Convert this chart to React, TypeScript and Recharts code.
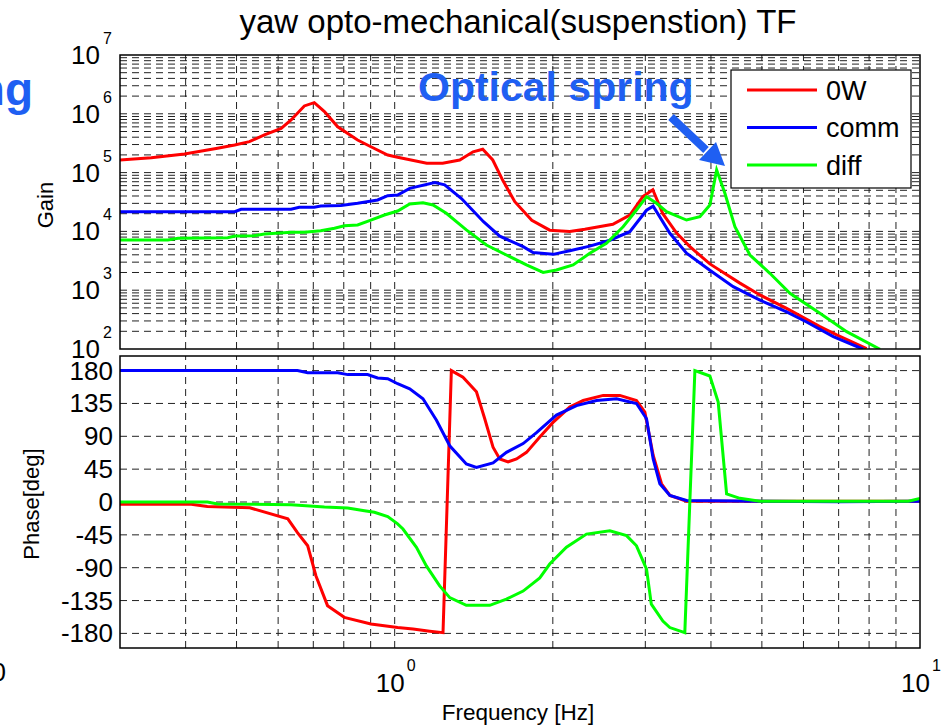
import React from 'react';
import { LineChart, Line, XAxis, YAxis, ReferenceLine } from 'recharts';

const FONT = '"Liberation Sans", Arial, Helvetica, sans-serif';

// ---------- Gain data ----------
const gainFreq0W = [0.3, 0.344, 0.398, 0.46, 0.496, 0.529, 0.565, 0.608, 0.635, 0.673, 0.703, 0.735, 0.779, 0.85, 0.901, 0.97, 1.013, 1.151, 1.234, 1.33, 1.41, 1.471, 1.537, 1.606, 1.693, 1.824, 1.973, 2.154, 2.301, 2.602, 2.803, 2.968, 3.1, 3.239, 3.444, 3.647, 3.981, 4.541, 4.958, 5.573, 6.449, 6.94, 7.915];
const gain0W = [1.64e5, 1.79e5, 2.07e5, 2.59e5, 2.94e5, 3.36e5, 4.37e5, 5.66e5, 7.85e5, 1.36e6, 1.55e6, 1.09e6, 6.0e5, 3.58e5, 2.75e5, 1.99e5, 1.82e5, 1.44e5, 1.44e5, 1.64e5, 2.26e5, 2.5e5, 1.64e5, 7.4e4, 3.2e4, 1.55e4, 1.05e4, 1.0e4, 1.09e4, 1.32e4, 1.9e4, 3.9e4, 5.1e4, 2.0e4, 9.3e3, 5.5e3, 2.8e3, 1.32e3, 830, 490, 240, 174, 102];

const gainFreqComm = [0.3, 0.496, 0.51, 0.635, 0.658, 0.703, 0.723, 0.79, 0.85, 0.928, 0.97, 1.013, 1.068, 1.192, 1.245, 1.34, 1.476, 1.585, 1.756, 1.834, 2.002, 2.154, 2.352, 2.568, 2.803, 3.016, 3.105, 3.341, 3.594, 3.981, 4.41, 4.958, 5.573, 6.083, 6.838, 7.798];
const gainComm = [2.16e4, 2.16e4, 2.38e4, 2.38e4, 2.57e4, 2.57e4, 2.7e4, 2.75e4, 3.0e4, 3.42e4, 4.05e4, 4.16e4, 5.4e4, 6.76e4, 6.2e4, 3.63e4, 1.46e4, 8.3e3, 5.5e3, 4.37e3, 4.07e3, 4.68e3, 5.62e3, 7.08e3, 9.9e3, 2.29e4, 2.69e4, 9.3e3, 4.27e3, 2.19e3, 1.15e3, 676, 427, 288, 162, 99];

const gainFreqDiff = [0.3, 0.37, 0.387, 0.481, 0.496, 0.54, 0.565, 0.635, 0.673, 0.723, 0.768, 0.802, 0.85, 0.901, 0.956, 1.013, 1.068, 1.132, 1.183, 1.254, 1.369, 1.495, 1.632, 1.782, 1.917, 2.032, 2.186, 2.352, 2.53, 2.722, 2.886, 3.016, 3.151, 3.292, 3.594, 3.811, 3.981, 4.101, 4.252, 4.443, 4.745, 5.179, 5.655, 6.449, 7.252, 8.391];
const gainDiff = [7.14e3, 7.14e3, 7.64e3, 7.82e3, 8.36e3, 8.45e3, 9.04e3, 9.66e3, 9.66e3, 1.03e4, 1.13e4, 1.25e4, 1.29e4, 1.56e4, 1.9e4, 2.22e4, 2.92e4, 3.08e4, 2.81e4, 2.03e4, 1.06e4, 5.87e3, 3.97e3, 2.69e3, 2.01e3, 2.21e3, 2.69e3, 4.24e3, 6.28e3, 1.2e4, 2.31e4, 3.89e4, 3.01e4, 2.16e4, 1.56e4, 1.78e4, 2.81e4, 1.11e5, 4.45e4, 1.2e4, 3.97e3, 1.94e3, 885, 405, 197, 99];

// ---------- Phase data ----------
const phaseFreq0W = [0.3, 0.41, 0.44, 0.53, 0.626, 0.653, 0.683, 0.708, 0.745, 0.802, 0.901, 1.013, 1.084, 1.166, 1.236, 1.282, 1.349, 1.431, 1.484, 1.539, 1.585, 1.644, 1.706, 1.782, 1.889, 2.002, 2.154, 2.285, 2.494, 2.683, 2.886, 2.994, 3.105, 3.221, 3.341, 3.594, 5.0, 7.0, 10];
const phase0W = [-3, -3, -6, -8, -23, -42, -60, -101, -142, -158, -167, -172, -174, -177, -179, 180, 171, 151, 114, 75, 59, 55, 59, 68, 89, 109, 130, 139, 146, 146, 139, 123, 64, 25, 9, 1, 1, 1, 1];

const phaseFreqComm = [0.3, 0.653, 0.683, 0.779, 0.814, 0.888, 0.928, 0.97, 1.013, 1.068, 1.132, 1.201, 1.273, 1.369, 1.431, 1.539, 1.632, 1.756, 1.862, 2.032, 2.219, 2.422, 2.645, 2.886, 3.016, 3.105, 3.197, 3.341, 3.594, 5.0, 7.0, 10];
const phaseComm = [180, 180, 177, 177, 174.5, 174.5, 170, 169, 162, 155, 141.5, 112, 77, 52, 47.5, 53.6, 68, 80, 95, 119, 132, 139, 141.5, 135, 114, 59, 25, 9, 2, 1, 0.5, 1];

const phaseFreqDiff = [0.3, 0.44, 0.46, 0.635, 0.735, 0.814, 0.876, 0.915, 0.97, 1.013, 1.037, 1.1, 1.149, 1.218, 1.273, 1.369, 1.517, 1.632, 1.756, 1.889, 1.973, 2.123, 2.318, 2.568, 2.763, 2.886, 3.016, 3.08, 3.24, 3.34, 3.567, 3.728, 3.981, 4.129, 4.284, 4.541, 4.958, 9.5, 10];
const phaseDiff = [0, 0, -2.7, -3.7, -7, -8.3, -12, -14, -20, -30, -37, -62, -87.5, -115, -131, -141.6, -141.6, -133, -122, -104, -85, -62, -44, -39.4, -46, -60, -92, -140, -163, -172, -179, 180, 172.6, 137, 11, 5, 1, 1, 5];

// ---------- Axis ticks / labels ----------
const seriesNames = ['0W', 'comm', 'diff'];
const seriesColors = ['#ff0000', '#0000ff', '#00ff00'];
const gainTicks = [1e2, 1e3, 1e4, 1e5, 1e6, 1e7];
const phaseTicks = [-180, -135, -90, -45, 0, 45, 90, 135, 180];
const freqTicks = [1, 10];
const freqGrid = [0.4, 0.5, 0.6, 0.7, 0.8, 0.9, 1, 2, 3, 4, 5, 6, 7, 8, 9];
const gainGrid: number[] = [];
for (let n = 2; n <= 6; n++) for (let k = 1; k <= 9; k++) if (!(n === 2 && k === 1)) gainGrid.push(k * Math.pow(10, n));

const zip = (fs: number[], vs: number[]) => fs.map((f, i) => ({ f, v: vs[i] }));
const gainSeries = [zip(gainFreq0W, gain0W), zip(gainFreqComm, gainComm), zip(gainFreqDiff, gainDiff)];
const phaseSeries = [zip(phaseFreq0W, phase0W), zip(phaseFreqComm, phaseComm), zip(phaseFreqDiff, phaseDiff)];

// layout
const PL = 120, PR = 920;
const T1 = 55, B1 = 349;
const T2 = 356, B2 = 648;
const GRID = { stroke: '#222', strokeDasharray: '7 5', strokeWidth: 1 };

const PowTickY = (props: any) => {
  const { x, y, payload } = props;
  const e = Math.round(Math.log10(payload.value));
  return (
    <g fontFamily={FONT} fill="#000">
      <text x={x - 20} y={y + 9} textAnchor="end" fontSize={26}>10</text>
      <text x={x - 17} y={y - 11} textAnchor="start" fontSize={16}>{e}</text>
    </g>
  );
};

const PowTickX = (props: any) => {
  const { x, y, payload } = props;
  const e = Math.round(Math.log10(payload.value));
  return (
    <g fontFamily={FONT} fill="#000">
      <text x={x + 10} y={y + 44} textAnchor="end" fontSize={26}>10</text>
      <text x={x + 12} y={y + 23} textAnchor="start" fontSize={16}>{e}</text>
    </g>
  );
};

const PhaseTick = (props: any) => {
  const { x, y, payload } = props;
  return (
    <text x={x - 7} y={y + 9} textAnchor="end" fontSize={26} fontFamily={FONT} fill="#000">{payload.value}</text>
  );
};

export default function App() {
  return (
    <div style={{ position: 'absolute', left: 0, top: 0, width: 950, height: 726, background: '#fff', overflow: 'hidden' }}>
      <div style={{ position: 'absolute', left: 0, top: 0 }}>
        <LineChart width={950} height={360} margin={{ top: T1, right: 950 - PR, bottom: 360 - B1, left: 0 }}>
          <XAxis dataKey="f" type="number" scale="log" domain={[0.3, 10]} allowDataOverflow hide />
          <YAxis type="number" scale="log" domain={[100, 1e7]} allowDataOverflow ticks={gainTicks} width={PL}
            axisLine={false} tickLine={false} tickSize={0} tickMargin={0} tick={<PowTickY />} interval={0} />
          {freqGrid.map((v) => <ReferenceLine key={'vx' + v} x={v} {...GRID} />)}
          {gainGrid.map((v) => <ReferenceLine key={'hy' + v} y={v} {...GRID} />)}
          {gainSeries.map((d, i) => (
            <Line key={seriesNames[i]} data={d} dataKey="v" name={seriesNames[i]} stroke={seriesColors[i]} strokeWidth={3}
              dot={false} type="linear" isAnimationActive={false} />
          ))}
        </LineChart>
      </div>
      <div style={{ position: 'absolute', left: 0, top: 340 }}>
        <LineChart width={950} height={386} margin={{ top: T2 - 340, right: 950 - PR, bottom: 0, left: 0 }}>
          <XAxis dataKey="f" type="number" scale="log" domain={[0.3, 10]} allowDataOverflow ticks={freqTicks} height={726 - B2}
            axisLine={false} tickLine={false} tickSize={0} tickMargin={0} tick={<PowTickX />} interval={0} />
          <YAxis type="number" domain={[-200, 200]} allowDataOverflow ticks={phaseTicks} width={PL}
            axisLine={false} tickLine={false} tickSize={0} tickMargin={0} tick={<PhaseTick />} interval={0} />
          {freqGrid.map((v) => <ReferenceLine key={'vx' + v} x={v} {...GRID} />)}
          {phaseTicks.map((v) => <ReferenceLine key={'hp' + v} y={v} {...GRID} />)}
          {phaseSeries.map((d, i) => (
            <Line key={seriesNames[i]} data={d} dataKey="v" name={seriesNames[i]} stroke={seriesColors[i]} strokeWidth={3}
              dot={false} type="linear" isAnimationActive={false} />
          ))}
        </LineChart>
      </div>
      <svg width={950} height={726} style={{ position: 'absolute', left: 0, top: 0, pointerEvents: 'none' }} fontFamily={FONT}>
        <rect x={PL} y={T1} width={PR - PL} height={B1 - T1} fill="none" stroke="#000" strokeWidth={1.5} />
        <rect x={PL} y={T2} width={PR - PL} height={B2 - T2} fill="none" stroke="#000" strokeWidth={1.5} />
        <text x={518} y={33} textAnchor="middle" fontSize={33} fill="#000">yaw opto-mechanical(suspenstion) TF</text>
        <text x={53} y={205} transform="rotate(-90 53 205)" textAnchor="middle" fontSize={22} fill="#000">Gain</text>
        <text x={39} y={504} transform="rotate(-90 39 504)" textAnchor="middle" fontSize={22} fill="#000">Phase[deg]</text>
        <text x={518} y={720} textAnchor="middle" fontSize={22.5} fill="#000">Frequency [Hz]</text>
        <text x={418} y={101} fontSize={41} fontWeight="bold" fill="#1f5ff2">Optical spring</text>
        <text x={33} y={105} textAnchor="end" fontSize={46} fontWeight="bold" fill="#1f5ff2">ng</text>
        <text x={6} y={681} textAnchor="end" fontSize={26} fill="#000">0</text>
        <line x1={671} y1={117} x2={706} y2={150} stroke="#1f5ff2" strokeWidth={8} />
        <polygon points="699,160 716,142 725,166" fill="#1f5ff2" />
        <rect x={731} y={70} width={180} height={118} fill="#fff" stroke="#000" strokeWidth={1.2} />
        {seriesNames.map((n, i) => (
          <g key={n}>
            <line x1={747} x2={817} y1={90 + i * 37.5} y2={90 + i * 37.5} stroke={seriesColors[i]} strokeWidth={3} />
            <text x={826} y={90 + i * 37.5 + 9.5} fontSize={27} fill="#000">{n}</text>
          </g>
        ))}
      </svg>
    </div>
  );
}
